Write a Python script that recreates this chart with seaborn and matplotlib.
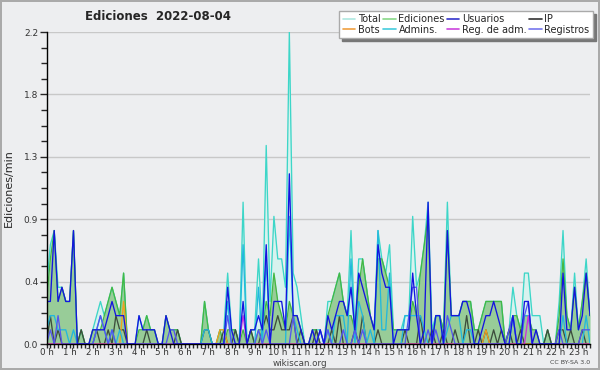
import matplotlib
matplotlib.use("Agg")
import matplotlib.pyplot as plt
from matplotlib.lines import Line2D
from matplotlib.ticker import MultipleLocator, FixedLocator
import numpy as np
import pandas as pd
import seaborn as sns

# edits per 10-minute slot, 00:00 .. 23:30 (divided by 10 -> edits/min)
total = [4, 7, 8, 4, 4, 3, 3, 8, 0, 1, 0, 0,
         1, 2, 3, 2, 3, 4, 3, 2, 5, 0, 0, 0,
         2, 1, 2, 1, 1, 0, 0, 2, 1, 1, 1, 0,
         0, 0, 0, 0, 0, 3, 1, 0, 0, 1, 1, 5,
         1, 1, 0, 10, 0, 1, 1, 6, 1, 14, 3, 9,
         6, 6, 4, 22, 5, 4, 2, 0, 0, 1, 1, 1,
         0, 3, 3, 4, 5, 3, 2, 8, 1, 6, 6, 4,
         2, 1, 8, 6, 5, 7, 1, 1, 1, 2, 2, 9,
         4, 5, 7, 10, 1, 2, 2, 1, 10, 2, 2, 2,
         3, 3, 3, 1, 1, 2, 3, 3, 3, 3, 3, 0,
         1, 4, 2, 1, 5, 5, 2, 2, 2, 0, 1, 0,
         0, 3, 8, 2, 1, 5, 1, 3, 6, 2]
ediciones = [3, 6, 8, 3, 4, 3, 3, 8, 0, 1, 0, 0,
             1, 1, 1, 2, 3, 4, 3, 2, 5, 0, 0, 0,
             1, 1, 2, 1, 1, 0, 0, 2, 1, 1, 1, 0,
             0, 0, 0, 0, 0, 3, 1, 0, 0, 1, 0, 1,
             1, 1, 0, 1, 0, 1, 0, 1, 1, 3, 2, 5,
             3, 2, 1, 3, 2, 2, 1, 0, 0, 1, 1, 0,
             0, 2, 3, 4, 5, 3, 2, 2, 1, 4, 6, 4,
             2, 1, 6, 6, 5, 4, 1, 1, 1, 1, 1, 3,
             2, 5, 7, 9, 0, 2, 2, 1, 8, 2, 2, 2,
             3, 3, 3, 1, 1, 2, 3, 3, 3, 3, 3, 0,
             1, 2, 2, 1, 2, 2, 1, 1, 0, 0, 1, 0,
             0, 2, 6, 2, 1, 4, 1, 3, 5, 2]
usuarios = [3, 3, 8, 3, 4, 3, 3, 8, 0, 0, 0, 0,
            1, 1, 1, 1, 2, 3, 2, 2, 2, 0, 0, 0,
            2, 1, 1, 1, 1, 0, 0, 2, 1, 0, 0, 0,
            0, 0, 0, 0, 0, 0, 0, 0, 0, 0, 0, 4,
            1, 0, 0, 3, 0, 1, 1, 2, 1, 7, 0, 3,
            3, 3, 1, 12, 2, 2, 1, 0, 0, 1, 0, 1,
            0, 2, 1, 2, 3, 3, 2, 4, 1, 5, 4, 3,
            2, 1, 7, 5, 4, 4, 0, 1, 1, 1, 1, 5,
            2, 0, 1, 10, 0, 2, 2, 0, 8, 2, 2, 2,
            3, 3, 2, 0, 0, 1, 2, 2, 3, 2, 1, 0,
            0, 2, 0, 0, 3, 3, 0, 1, 0, 0, 0, 0,
            0, 0, 5, 1, 1, 4, 1, 2, 5, 2]
ip = [0, 2, 0, 1, 0, 0, 0, 0, 0, 1, 0, 0,
      0, 1, 0, 0, 1, 0, 2, 1, 1, 0, 0, 0,
      0, 0, 1, 0, 0, 0, 0, 0, 0, 0, 1, 0,
      0, 0, 0, 0, 0, 1, 1, 0, 0, 0, 1, 0,
      0, 1, 0, 0, 0, 1, 0, 0, 1, 2, 1, 1,
      2, 1, 1, 1, 2, 0, 1, 0, 0, 0, 1, 0,
      0, 0, 1, 0, 2, 0, 0, 0, 1, 0, 2, 0,
      0, 0, 1, 0, 0, 0, 0, 0, 0, 1, 0, 0,
      0, 2, 0, 0, 1, 0, 0, 1, 0, 0, 1, 0,
      0, 2, 0, 0, 1, 0, 1, 0, 1, 0, 1, 0,
      1, 0, 0, 1, 0, 0, 0, 0, 0, 0, 1, 0,
      0, 1, 1, 0, 1, 0, 0, 1, 0, 0]
bots = [0] * 20 + [3] + [0] * 24 + [1, 1] + [0] * 67 + [1] + [0] * 27
admins = [1, 2, 2, 1, 1, 1, 0, 1, 0, 0, 0, 0,
          0, 1, 2, 1, 0, 1, 0, 1, 0, 0, 0, 0,
          0, 0, 0, 0, 0, 0, 0, 0, 0, 0, 0, 0,
          0, 0, 0, 0, 0, 1, 1, 0, 0, 0, 0, 3,
          0, 0, 0, 7, 0, 0, 0, 4, 0, 6, 0, 0,
          0, 0, 0, 9, 2, 1, 0, 0, 0, 0, 0, 0,
          0, 1, 0, 2, 2, 2, 0, 6, 0, 3, 2, 0,
          1, 0, 8, 1, 1, 5, 0, 0, 0, 2, 2, 2,
          2, 2, 1, 0, 0, 2, 2, 0, 1, 2, 2, 2,
          0, 1, 1, 0, 0, 0, 0, 0, 0, 0, 0, 0,
          0, 2, 0, 0, 2, 2, 0, 0, 0, 0, 0, 0,
          0, 0, 2, 0, 0, 0, 0, 0, 2, 0]
reg_adm = [0] * 51 + [2] + [0] * 73 + [2] + [0] * 16
registros = [0, 1, 0, 2, 0, 0, 0, 0, 0, 0, 0, 0,
             0, 1, 2, 1, 0, 1, 0, 0, 0, 0, 0, 0,
             0, 0, 0, 0, 0, 0, 0, 0, 1, 1, 0, 0,
             0, 0, 0, 0, 0, 0, 0, 0, 0, 0, 0, 2,
             0, 0, 0, 0, 0, 0, 0, 1, 0, 1, 0, 0,
             0, 0, 0, 0, 2, 0, 0, 0, 0, 0, 0, 1,
             0, 1, 0, 0, 0, 1, 0, 0, 1, 0, 1, 0,
             0, 0, 0, 0, 0, 0, 0, 0, 0, 0, 2, 4,
             4, 0, 0, 1, 0, 1, 0, 0, 2, 1, 0, 0,
             0, 0, 0, 0, 0, 0, 0, 0, 0, 0, 0, 0,
             1, 2, 0, 0, 2, 3, 0, 0, 0, 0, 0, 0,
             0, 1, 0, 0, 0, 0, 0, 1, 1, 1]

hour_labels = [f"{h} h" for h in range(24)]
ytick_vals = [0, 0.44, 0.88, 1.32, 1.76, 2.2]
ytick_labels = ["0.0", "0.4", "0.9", "1.3", "1.8", "2.2"]

df = pd.DataFrame({
    "hora": np.arange(len(total)) / 6,
    "Total": np.array(total) / 10,
    "Ediciones": np.array(ediciones) / 10,
    "Usuarios": np.array(usuarios) / 10,
    "IP": np.array(ip) / 10,
    "Bots": np.array(bots) / 10,
    "Admins.": np.array(admins) / 10,
    "Reg. de adm.": np.array(reg_adm) / 10,
    "Registros": np.array(registros) / 10,
})

bg = "#edeef0"
sns.set_theme(style="white", rc={"axes.facecolor": bg, "figure.facecolor": bg})
plt.rcParams["font.family"] = ["DejaVu Sans"]

fig = plt.figure(figsize=(6, 3.7), dpi=100)
fig.patch.set_edgecolor("#aaaaaa")
fig.patch.set_linewidth(1.5)
ax = fig.add_axes([46.5 / 600, 1 - 344 / 370, (590 - 46.5) / 600, (344 - 32) / 370])

ax.fill_between(df["hora"], df["Total"], color="#d8f2ee", lw=0)
ax.fill_between(df["hora"], df["Ediciones"], color="#98cc98", lw=0)

line_colors = {
    "Total": "#3dd6c8",
    "Ediciones": "#44b844",
    "Bots": "#f0a020",
    "Reg. de adm.": "#cc33dd",
    "IP": "#3d4d3d",
    "Admins.": "#22b8dd",
    "Registros": "#5555ee",
    "Usuarios": "#1414e0",
}
for name in ["Total", "Ediciones", "IP", "Bots", "Admins.", "Reg. de adm.", "Registros", "Usuarios"]:
    sns.lineplot(data=df, x="hora", y=name, ax=ax, color=line_colors[name], lw=0.95)

ax.set_xlim(0, 23.5)
ax.set_ylim(0, 2.2)
ax.set_xlabel("")
ax.set_ylabel("Ediciones/min", fontsize=8, labelpad=7)

ax.set_xticks(range(24))
ax.set_xticklabels(hour_labels, fontsize=6.3, color="#333333")
ax.xaxis.set_minor_locator(MultipleLocator(1 / 6))
ax.set_yticks(ytick_vals)
ax.set_yticklabels(ytick_labels, fontsize=6.5, color="#333333")
ax.yaxis.set_minor_locator(FixedLocator(np.arange(0, 2.21, 0.11)))
ax.tick_params(axis="x", which="major", length=3, width=1, pad=0, bottom=True)
ax.tick_params(axis="x", which="minor", length=3, width=1, bottom=True)
ax.tick_params(axis="y", which="major", length=5, width=1, pad=1, left=True)
ax.tick_params(axis="y", which="minor", length=4, width=1, left=True)
for y in ytick_vals[1:]:
    ax.axhline(y, color="#c8c8c8", lw=1, zorder=0)
for side in ["top", "right"]:
    ax.spines[side].set_visible(False)
for side in ["left", "bottom"]:
    ax.spines[side].set_color("black")
    ax.spines[side].set_linewidth(1)

legend_colors = {
    "Total": "#aee8e0", "Bots": "#f0a040",
    "Ediciones": "#88d888", "Admins.": "#44ccdd",
    "Usuarios": "#3333cc", "Reg. de adm.": "#cc44dd",
    "IP": "#333333", "Registros": "#7777ee",
}
handles = [Line2D([], [], color=c, lw=1.2) for c in legend_colors.values()]
leg = fig.legend(handles, list(legend_colors.keys()), ncol=4, loc="upper right",
                 bbox_to_anchor=(593 / 600, 1 - 11 / 370), fontsize=7,
                 frameon=True, fancybox=False, shadow={"color": "#777777", "alpha": 1},
                 handlelength=1.3, handletextpad=0.3, columnspacing=0.2,
                 labelspacing=0.05, borderpad=0.35, borderaxespad=0)
leg.get_frame().set_edgecolor("#aaaaaa")
leg.get_frame().set_facecolor("white")

fig.text(85 / 600, 1 - 16 / 370, "Ediciones  2022-08-04", fontsize=8.5,
         fontweight="bold", va="center", ha="left")
fig.text(300 / 600, 1 - 363 / 370, "wikiscan.org", fontsize=6.3, color="#444444",
         ha="center", va="center")
fig.text(590 / 600, 1 - 363 / 370, "CC BY-SA 3.0", fontsize=4.5, color="#444444",
         ha="right", va="center")

fig.savefig("out.png", dpi=100, facecolor=fig.get_facecolor(), edgecolor=fig.get_edgecolor())
